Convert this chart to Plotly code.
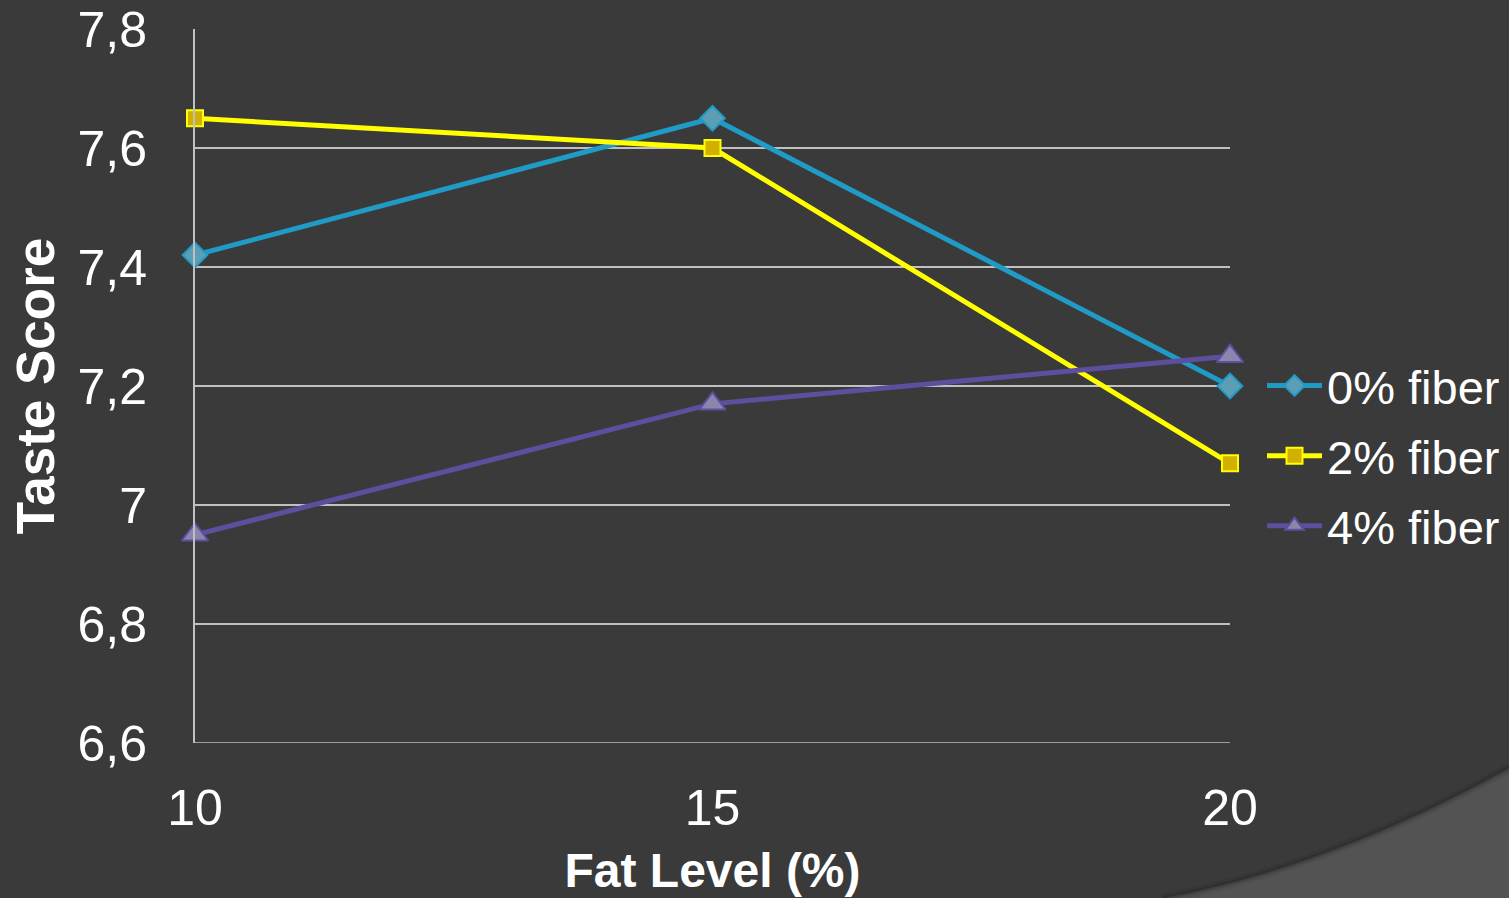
import plotly.graph_objects as go

# Fat level (%) on the x axis, taste score per fiber content
fat_level = [10, 15, 20]
fiber_labels = ["0% fiber", "2% fiber", "4% fiber"]
taste_0 = [7.42, 7.65, 7.20]
taste_2 = [7.65, 7.60, 7.07]
taste_4 = [6.95, 7.17, 7.25]

y_ticks = [6.6, 6.8, 7.0, 7.2, 7.4, 7.6, 7.8]
y_tick_text = ["6,6", "6,8", "7", "7,2", "7,4", "7,6", "7,8"]
x_ticks = [10, 15, 20]

W, H = 1509, 898
L, R, T, B = 195, 279, 29, 155
pw, ph = W - L - R, H - T - B

def px(x):
    return (x - L) / pw

def py(y):
    return (H - B - y) / ph

FONT = "Liberation Sans, Arial, sans-serif"

styles = [
    dict(line="#1f9bc6", fill="#5c9fb4", symbol="diamond", size=19),
    dict(line="#ffff00", fill="#d2b000", symbol="square", size=16),
    dict(line="#5d4f9e", fill="#8b86ae", symbol="triangle-up", size=23),
]

fig = go.Figure()
for name, vals, st in zip(fiber_labels, [taste_0, taste_2, taste_4], styles):
    fig.add_trace(go.Scatter(
        x=fat_level, y=vals, name=name, mode="lines+markers",
        line=dict(color=st["line"], width=5),
        marker=dict(symbol=st["symbol"], size=st["size"], color=st["fill"],
                    line=dict(color=st["line"], width=2)),
        legendgroup=name, cliponaxis=False,
    ))

# Lighter sweep in the lower-right corner of the background
curve = f"M {px(1163)},{py(898)} Q {px(1330)},{py(867)} {px(1509)},{py(768)}"
fig.add_shape(type="path", path=curve + f" L {px(1509)},{py(898)} Z",
              xref="paper", yref="paper",
              fillcolor="#535353", line=dict(width=0), layer="below")
for w, a in [(10, 0.08), (6, 0.12), (3, 0.2)]:
    fig.add_shape(type="path", path=curve, xref="paper", yref="paper",
                  line=dict(color=f"rgba(30,30,30,{a})", width=w), layer="below")

fig.update_layout(
    width=W, height=H,
    margin=dict(l=L, r=R, t=T, b=B, autoexpand=False),
    paper_bgcolor="#3a3a3a", plot_bgcolor="rgba(0,0,0,0)",
    font=dict(family=FONT, color="white", size=48),
    showlegend=True,
    legend=dict(x=px(1262), y=py(456), xanchor="left", yanchor="middle",
                font=dict(size=47, color="white", family=FONT), itemwidth=55,
                bgcolor="rgba(0,0,0,0)", traceorder="grouped", tracegroupgap=6),
    xaxis=dict(range=[10, 20], tickvals=x_ticks, showgrid=False, zeroline=False,
               showline=False, ticks="", ticklabelstandoff=31,
               tickfont=dict(size=50, color="white"),
               title=dict(text="<b>Fat Level (%)</b>", font=dict(size=48, color="white"),
                          standoff=18)),
    yaxis=dict(range=[6.6, 7.8], tickvals=y_ticks, ticktext=y_tick_text,
               showgrid=True, gridcolor="#c0c0c0", gridwidth=1.5, zeroline=False,
               showline=True, linecolor="#c0c0c0", linewidth=2, mirror=False,
               ticks="", ticklabelstandoff=36,
               tickfont=dict(size=50, color="white"),
               title=dict(text="<b>Taste Score</b>", font=dict(size=53, color="white"),
                          standoff=6)),
)
# bottom rule at 6,6 spanning the plot width
fig.add_shape(type="line", xref="paper", yref="y", x0=0, x1=1, y0=6.6, y1=6.6,
              line=dict(color="#c0c0c0", width=1.5), layer="below")

fig.write_html("out.html")
